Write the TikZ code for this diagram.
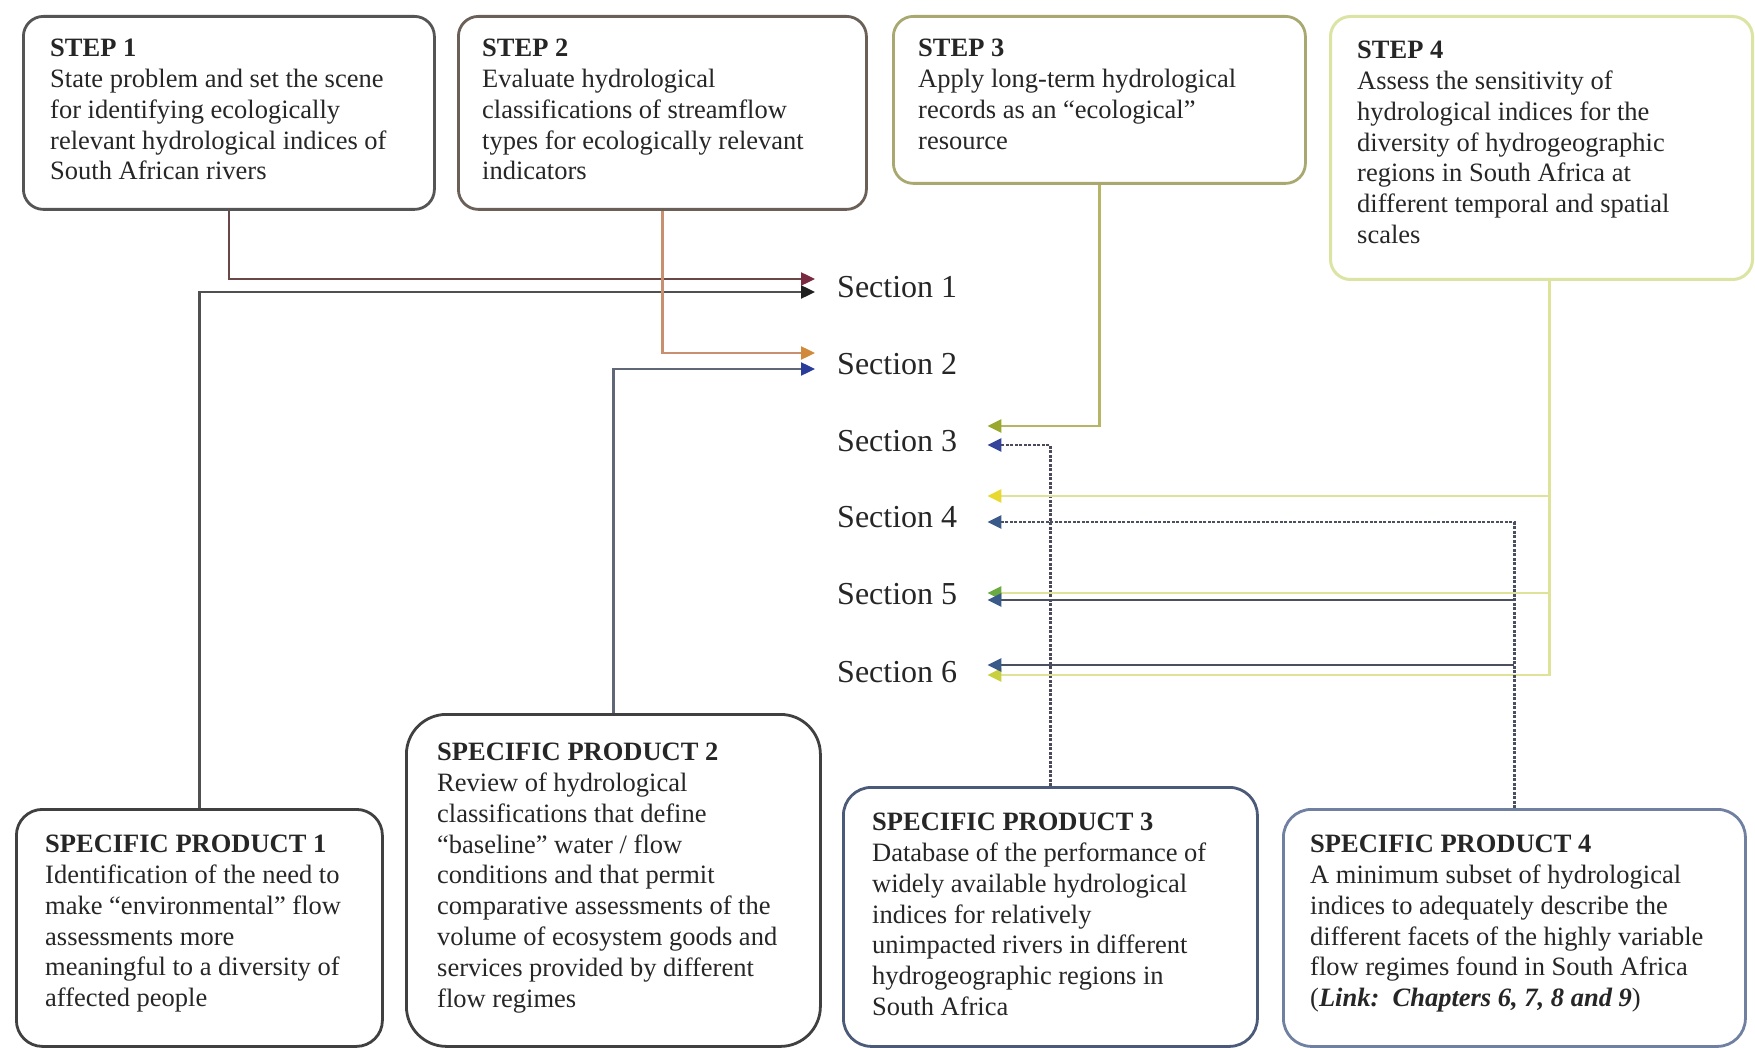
\documentclass[tikz,border=0pt]{standalone}
\usepackage{fontspec}
\setmainfont{Liberation Serif}
\usetikzlibrary{arrows.meta,calc}
\newcommand\bdyfnt{\fontsize{26.5}{30.8}\selectfont}
\newcommand\secfnt{\fontsize{32}{36}\selectfont}
\definecolor{txtc}{HTML}{262626}
\definecolor{b1}{HTML}{555555}
\definecolor{b2}{HTML}{6A6058}
\definecolor{b3}{HTML}{A8A870}
\definecolor{b4}{HTML}{DCE4A4}
\definecolor{bp}{HTML}{404040}
\definecolor{bp3}{HTML}{4A5A78}
\definecolor{bp4}{HTML}{7080A0}
\definecolor{l1}{HTML}{6A4848}
\definecolor{t1}{HTML}{7A2A40}
\definecolor{lp1}{HTML}{505050}
\definecolor{tp1}{HTML}{202020}
\definecolor{l2}{HTML}{C89070}
\definecolor{t2}{HTML}{D08A3A}
\definecolor{lp2}{HTML}{606878}
\definecolor{tp2}{HTML}{2A3C9A}
\definecolor{l3}{HTML}{B5B565}
\definecolor{t3}{HTML}{9AA830}
\definecolor{lp3}{HTML}{4A4A5A}
\definecolor{tp3}{HTML}{34449A}
\definecolor{l4}{HTML}{DFE39A}
\definecolor{t4a}{HTML}{E8D830}
\definecolor{t4b}{HTML}{6AAA40}
\definecolor{t4c}{HTML}{C8D040}
\definecolor{lp4}{HTML}{4A5060}
\definecolor{tp4}{HTML}{3A5A8A}
\tikzset{
  box/.style={draw, rounded corners=20pt, line width=2.8pt, inner sep=0pt, anchor=north west},
  txt/.style={align=left, inner sep=0pt, anchor=north west, font=\bdyfnt, text=txtc},
  sec/.style={anchor=west, inner sep=0pt, font=\secfnt, text=txtc},
  conn/.style={line width=2.4pt},
  dotc/.style={dash pattern=on 3pt off 1.5pt},
}
\begin{document}
\begin{tikzpicture}[x=1pt,y=-1pt]
\useasboundingbox[fill=white] (0,0) rectangle (1755,1048);
% boxes
\node[box, draw=b1, minimum width=411pt, minimum height=193pt] (s1) at (22,15) {};
\node[box, draw=b2, minimum width=408pt, minimum height=193pt] (s2) at (457,15) {};
\node[box, draw=b3, minimum width=412pt, minimum height=167pt] (s3) at (892,15) {};
\node[box, draw=b4, line width=3pt, minimum width=422pt, minimum height=263pt] (s4) at (1329,15) {};
\node[box, draw=bp, rounded corners=26pt, minimum width=366pt, minimum height=237pt] (p1) at (15,808) {};
\node[box, draw=bp, rounded corners=40pt, minimum width=414pt, minimum height=332pt] (p2) at (405,713) {};
\node[box, draw=bp3, rounded corners=28pt, minimum width=414pt, minimum height=259pt] (p3) at (842,786) {};
\node[box, draw=bp4, rounded corners=28pt, minimum width=462pt, minimum height=237pt] (p4) at (1282,808) {};
% texts
\node[txt] (s1t) at (50,39) {\textbf{STEP 1}\\State problem and set the scene\\for identifying ecologically\\relevant hydrological indices of\\South African rivers};
\node[txt] (s2t) at (482,39) {\textbf{STEP 2}\\Evaluate hydrological\\classifications of streamflow\\types for ecologically relevant\\indicators};
\node[txt] (s3t) at (918,39) {\textbf{STEP 3}\\Apply long-term hydrological\\records as an “ecological”\\resource};
\node[txt] (s4t) at (1357,41) {\textbf{STEP 4}\\Assess the sensitivity of\\hydrological indices for the\\diversity of hydrogeographic\\regions in South Africa at\\different temporal and spatial\\scales};
\node[txt] (p1t) at (45,835) {\textbf{SPECIFIC PRODUCT 1}\\Identification of the need to\\make “environmental” flow\\assessments more\\meaningful to a diversity of\\affected people};
\node[txt] (p2t) at (437,743) {\textbf{SPECIFIC PRODUCT 2}\\Review of hydrological\\classifications that define\\“baseline” water / flow\\conditions and that permit\\comparative assessments of the\\volume of ecosystem goods and\\services provided by different\\flow regimes};
\node[txt] (p3t) at (872,813) {\textbf{SPECIFIC PRODUCT 3}\\Database of the performance of\\widely available hydrological\\indices for relatively\\unimpacted rivers in different\\hydrogeographic regions in\\South Africa};
\node[txt] (p4t) at (1310,835) {\textbf{SPECIFIC PRODUCT 4}\\A minimum subset of hydrological\\indices to adequately describe the\\different facets of the highly variable\\flow regimes found in South Africa\\(\textbf{\textit{Link:\ \ Chapters 6, 7, 8 and 9}})};
% sections
\node[sec] (sec1) at (837,287) {Section 1};
\node[sec] (sec2) at (837,364) {Section 2};
\node[sec] (sec3) at (837,441) {Section 3};
\node[sec] (sec4) at (837,517) {Section 4};
\node[sec] (sec5) at (837,594) {Section 5};
\node[sec] (sec6) at (837,672) {Section 6};
% end points
\coordinate (e1a) at ($(sec1.west)+(-22,-8)$);
\coordinate (e1b) at ($(sec1.west)+(-22,5)$);
\coordinate (e2a) at ($(sec2.west)+(-22,-11)$);
\coordinate (e2b) at ($(sec2.west)+(-22,5)$);
\coordinate (e3a) at ($(sec3.east)+(30,-15)$);
\coordinate (e3b) at ($(sec3.east)+(30,4)$);
\coordinate (e4a) at ($(sec4.east)+(30,-21)$);
\coordinate (e4b) at ($(sec4.east)+(30,5)$);
\coordinate (e5a) at ($(sec5.east)+(30,-1)$);
\coordinate (e5b) at ($(sec5.east)+(30,6)$);
\coordinate (e6a) at ($(sec6.east)+(30,-7)$);
\coordinate (e6b) at ($(sec6.east)+(30,3)$);
\coordinate (s4b) at ($(s4.south)+(8,0)$);
% connectors
\draw[conn, draw=l1, -{Triangle[length=14pt,width=13pt,color=t1]}] (s1.south) |- (e1a);
\draw[conn, draw=lp1, -{Triangle[length=14pt,width=13pt,color=tp1]}] (p1.north) |- (e1b);
\draw[conn, draw=l2, -{Triangle[length=14pt,width=13pt,color=t2]}] (s2.south) |- (e2a);
\draw[conn, draw=lp2, -{Triangle[length=14pt,width=13pt,color=tp2]}] (p2.north) |- (e2b);
\draw[conn, draw=l3, -{Triangle[length=14pt,width=13pt,color=t3]}] (s3.south) |- (e3a);
\draw[conn, draw=lp3, dotc, -{Triangle[length=14pt,width=13pt,color=tp3]}] (p3.north) |- (e3b);
\draw[conn, draw=l4, -{Triangle[length=14pt,width=13pt,color=t4a]}] (s4b) |- (e4a);
\draw[conn, draw=l4, -{Triangle[length=14pt,width=13pt,color=t4b]}] (s4b) |- (e5a);
\draw[conn, draw=l4, -{Triangle[length=14pt,width=13pt,color=t4c]}] (s4b) |- (e6b);
\draw[conn, draw=lp4, dotc, -{Triangle[length=14pt,width=13pt,color=tp4]}] (p4.north) |- (e4b);
\draw[conn, draw=lp4, -{Triangle[length=14pt,width=13pt,color=tp4]}] (p4.north |- e5b) -- (e5b);
\draw[conn, draw=lp4, -{Triangle[length=14pt,width=13pt,color=tp4]}] (p4.north |- e6a) -- (e6a);
\end{tikzpicture}
\end{document}
